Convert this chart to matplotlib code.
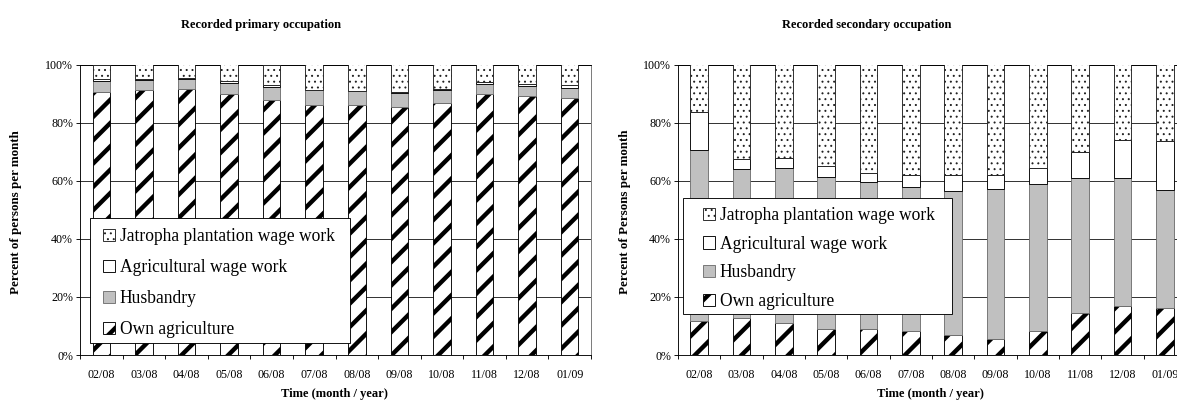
import matplotlib
matplotlib.use("Agg")
import matplotlib.pyplot as plt
import numpy as np
from matplotlib.ticker import FuncFormatter
from matplotlib.patches import Rectangle

# figure is laid out in pixels; dpi 70 makes the "/" hatch period ~11.7 px like the scan
W, H, DPI = 1177, 403, 70
PT = 72.0 / DPI          # points per pixel

months = ['02/08', '03/08', '04/08', '05/08', '06/08', '07/08',
          '08/08', '09/08', '10/08', '11/08', '12/08', '01/09']

# primary occupation, percent of persons per month
own_p = [90.6, 91.3, 91.4, 89.7, 87.9, 86.2, 86.2, 85.3, 86.8, 89.9, 89.2, 88.4]
husb_p = [3.7, 3.3, 3.6, 4.1, 4.5, 4.9, 4.6, 5.0, 4.5, 3.5, 3.4, 3.4]
agri_p = [0.6, 0.4, 0.4, 0.5, 0.5, 0.2, 0.2, 0.2, 0.3, 0.6, 0.7, 1.3]
jat_p = [5.1, 5.0, 4.6, 5.7, 7.1, 8.7, 9.0, 9.5, 8.4, 6.0, 6.7, 6.9]

# secondary occupation
own_s = [11.7, 12.6, 10.9, 8.8, 8.8, 8.3, 7.0, 5.4, 8.4, 14.3, 17.0, 16.1]
husb_s = [58.8, 51.3, 53.4, 52.4, 50.6, 49.7, 49.4, 51.6, 50.3, 46.8, 44.1, 40.6]
agri_s = [13.1, 3.6, 3.4, 3.7, 3.4, 3.9, 5.5, 4.8, 5.6, 8.9, 12.8, 16.9]
jat_s = [16.4, 32.5, 32.3, 35.1, 37.2, 38.1, 38.1, 38.2, 35.7, 30.0, 26.1, 26.4]

labels = ['Own agriculture', 'Husbandry', 'Agricultural wage work',
          'Jatropha plantation wage work']

plt.rcParams['font.family'] = ['Liberation Serif', 'DejaVu Serif']
plt.rcParams['hatch.linewidth'] = 1.0

fig = plt.figure(figsize=(W / DPI, H / DPI), dpi=DPI)


def fx(x):
    return x / W


def fy(y):
    return 1 - y / H


styles = [
    dict(color='white', edgecolor='black', hatch='/', hlw=4.4 * PT),
    dict(color='#c0c0c0', edgecolor='#707070', hatch=None, hlw=None),
    dict(color='white', edgecolor='black', hatch=None, hlw=None),
    dict(color='white', edgecolor='#202020', hatch='..', hlw=0.9 * PT),
]


def draw(ax, segs, title, ylabel, tcx, ycx, xcx, leg_box, leg_anchor, leg_space):
    x = np.arange(len(months))
    bottom = np.zeros(len(months))
    for vals, st, lab in zip(segs, styles, labels):
        bars = ax.bar(x, vals, 0.41, bottom=bottom, color=st['color'],
                      edgecolor=st['edgecolor'], hatch=st['hatch'],
                      linewidth=0.9 * PT, label=lab, zorder=3)
        if st['hlw'] is not None:
            for b in bars:
                b.set_hatch_linewidth(st['hlw'])
        bottom += np.array(vals)

    ax.set_xlim(-0.5, len(months) - 0.5)
    ax.set_ylim(0, 100)
    ax.set_yticks([0, 20, 40, 60, 80, 100])
    ax.yaxis.set_major_formatter(FuncFormatter(lambda v, p: '%d%%' % v))
    ax.set_xticks(x)
    ax.set_xticklabels(months)
    ax.set_xticks(np.arange(-0.5, len(months)), minor=True)
    ax.tick_params(axis='x', which='major', length=0, pad=14 * PT,
                   labelsize=12 * PT)
    ax.tick_params(axis='x', which='minor', length=4 * PT, width=0.9 * PT,
                   direction='out')
    ax.tick_params(axis='y', length=4 * PT, width=0.9 * PT, pad=3 * PT,
                   labelsize=12 * PT)
    ax.grid(axis='y', color='#202020', linewidth=0.9 * PT, zorder=0)
    ax.set_axisbelow(True)
    for s in ax.spines.values():
        s.set_linewidth(0.9 * PT)
    ax.spines['right'].set_color('#707070')

    fig.text(fx(tcx), fy(25), title, ha='center', va='center',
             fontsize=12.5 * PT, fontweight='bold')
    fig.text(fx(ycx), fy(212), ylabel, ha='center', va='center',
             rotation=90, fontsize=13 * PT, fontweight='bold')
    fig.text(fx(xcx), fy(394), 'Time (month / year)', ha='center',
             va='center', fontsize=12.5 * PT, fontweight='bold')

    # legend frame drawn separately so the padding can follow the scan
    x0, y0, x1, y1 = leg_box
    ax.add_patch(Rectangle((fx(x0), fy(y1)), fx(x1 - x0), (y1 - y0) / H,
                           transform=fig.transFigure, facecolor='white',
                           edgecolor='black', linewidth=0.9 * PT,
                           clip_on=False, zorder=4))
    h, l = ax.get_legend_handles_labels()
    leg = ax.legend(h[::-1], l[::-1], loc='upper left',
                    bbox_to_anchor=(fx(leg_anchor[0]), fy(leg_anchor[1])),
                    bbox_transform=fig.transFigure, borderaxespad=0,
                    fontsize=17.5 * PT, frameon=False,
                    handlelength=0.7, handleheight=0.7, handletextpad=0.25,
                    labelspacing=leg_space, borderpad=0)
    for hd, st in zip(leg.legend_handles, styles[::-1]):
        if st['hlw'] is not None:
            hd.set_hatch_linewidth(st['hlw'])
    leg.set_zorder(5)


ax1 = fig.add_axes([fx(80), fy(355), fx(511), (355 - 64.5) / H])
draw(ax1, [own_p, husb_p, agri_p, jat_p], 'Recorded primary occupation',
     'Percent of persons per month', 261, 16, 334,
     (90, 218, 350, 343), (103, 228), 0.8)

ax2 = fig.add_axes([fx(678), fy(355), fx(508), (355 - 64.5) / H])
draw(ax2, [own_s, husb_s, agri_s, jat_s], 'Recorded secondary occupation',
     'Percent of Persons per month', 867, 625, 930,
     (683, 198, 952, 314), (703, 207), 0.67)

fig.savefig('out.png', dpi=DPI)
